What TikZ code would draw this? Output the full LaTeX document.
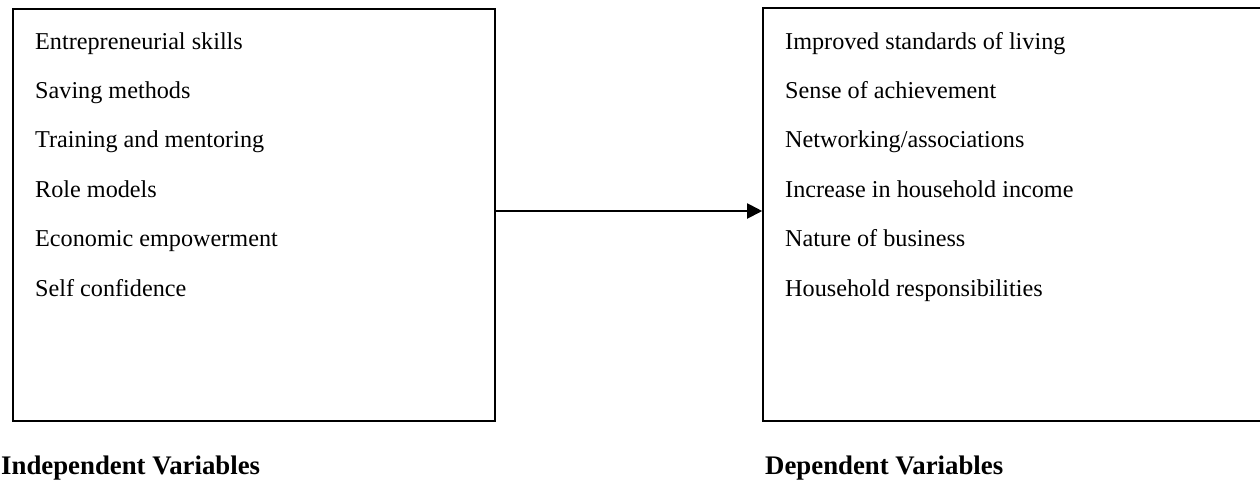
\documentclass[tikz,border=0pt]{standalone}
\usepackage{fontspec}
\setmainfont{Liberation Serif}
\usetikzlibrary{arrows.meta}
\begin{document}
\begin{tikzpicture}[x=1pt,y=-1pt,
  boxnode/.style={draw,line width=1.6pt,inner sep=0pt},
  item/.style={anchor=base west,inner sep=0pt,font=\fontsize{24.2}{28}\selectfont},
  lbl/.style={anchor=base west,inner sep=0pt,font=\fontsize{26.8}{30}\selectfont\bfseries},
  arr/.style={line width=2pt,-{Triangle[length=15pt,width=15pt]}}]
\useasboundingbox (0,0) rectangle (1260,480);
\clip (0,0) rectangle (1260,480);
\node[boxnode,minimum width=482pt,minimum height=412pt] (L) at (254,215) {};
\node[boxnode,minimum width=537pt,minimum height=413pt] (R) at (1031.5,214.5) {};
\coordinate (ay) at (0,211);
\draw[arr] (L.east |- ay) -- (R.west |- ay);
\foreach \t [count=\i from 0] in {Entrepreneurial skills,Saving methods,Training and mentoring,Role models,Economic empowerment,Self confidence}
  \node[item] (l\i) at (35,{49+49.4*\i}) {\t};
\foreach \t [count=\i from 0] in {Improved standards of living,Sense of achievement,Networking/associations,Increase in household income,Nature of business,Household responsibilities}
  \node[item] (r\i) at (785,{49+49.4*\i}) {\t};
\node[lbl] (il) at (1,474) {Independent Variables};
\node[lbl] (dl) at (765,474) {Dependent Variables};
\end{tikzpicture}
\end{document}
